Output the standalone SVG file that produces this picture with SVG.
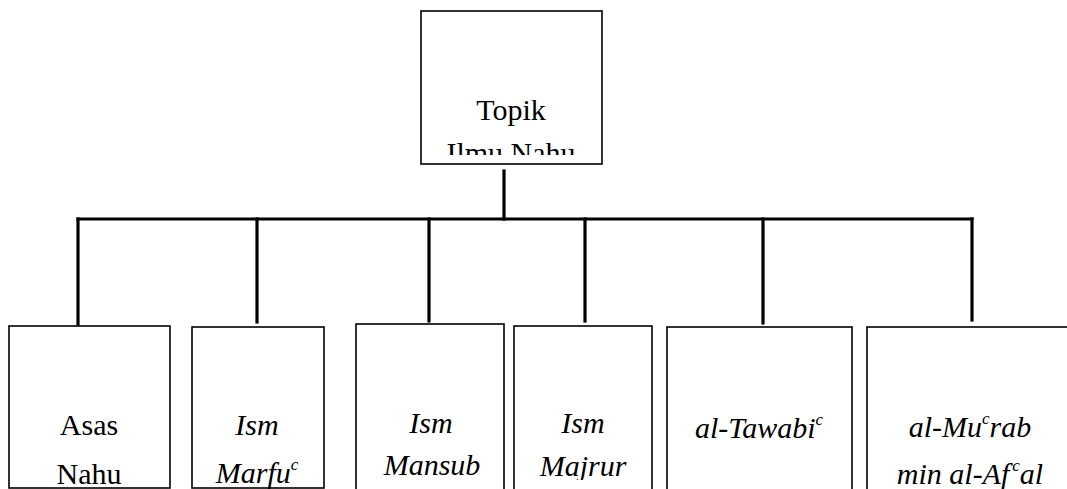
<svg xmlns="http://www.w3.org/2000/svg" width="1067" height="489" viewBox="0 0 1067 489" font-family="Liberation Serif, Times New Roman, serif">
<style>
.box{fill:#fff;stroke:#000;stroke-width:1.6}
.conn{stroke:#000;stroke-width:3.2;fill:none;stroke-linecap:square}
.t{font-family:"Liberation Serif",serif;font-size:30px;fill:#000;text-anchor:middle}
.it{font-style:italic}
.sup{font-size:17px}
</style>
<defs>
<clipPath id="clipTop"><rect x="421" y="11" width="181" height="144"/></clipPath>
<clipPath id="clipMaj"><rect x="514" y="326" width="138" height="154"/></clipPath>
</defs>
<g id="connectors">
<line class="conn" x1="504" y1="171" x2="504" y2="219"/>
<line class="conn" x1="78" y1="219" x2="972" y2="219"/>
<line class="conn" x1="78" y1="219" x2="78" y2="324"/>
<line class="conn" x1="257" y1="219" x2="257" y2="322"/>
<line class="conn" x1="429" y1="219" x2="429" y2="321"/>
<line class="conn" x1="585" y1="219" x2="585" y2="321"/>
<line class="conn" x1="763" y1="219" x2="763" y2="323"/>
<line class="conn" x1="972" y1="219" x2="972" y2="320"/>
</g>
<g id="topik">
<rect class="box" x="421" y="11" width="181" height="153"/>
<g clip-path="url(#clipTop)">
<text class="t" x="511" y="120">Topik</text>
<text class="t" x="511" y="163">Ilmu Nahu</text>
</g>
</g>
<g id="asas">
<rect class="box" x="9" y="326" width="161" height="162"/>
<text class="t" x="89" y="435">Asas</text>
<text class="t" x="89" y="484">Nahu</text>
</g>
<g id="marfu">
<rect class="box" x="192" y="327" width="132" height="161"/>
<text class="t it" x="257" y="435">Ism</text>
<text class="t it" x="257" y="483">Marfu<tspan class="sup" dy="-13">c</tspan></text>
</g>
<g id="mansub">
<rect class="box" x="356" y="324" width="148" height="170"/>
<text class="t it" x="431" y="433">Ism</text>
<text class="t it" x="432" y="475">Mansub</text>
</g>
<g id="majrur">
<rect class="box" x="514" y="326" width="138" height="170"/>
<g clip-path="url(#clipMaj)">
<text class="t it" x="583" y="433">Ism</text>
<text class="t it" x="583" y="476">Majrur</text>
</g>
</g>
<g id="tawabi">
<rect class="box" x="667" y="327" width="185" height="170"/>
<text class="t it" x="759" y="438">al-Tawabi<tspan class="sup" dy="-13">c</tspan></text>
</g>
<g id="murab">
<rect class="box" x="867" y="327" width="220" height="170"/>
<text class="t it" x="970" y="437">al-Mu<tspan class="sup" dy="-13">c</tspan><tspan dy="13">rab</tspan></text>
<text class="t it" x="970" y="484">min al-Af<tspan class="sup" dx="3" dy="-13">c</tspan><tspan dy="13">al</tspan></text>
</g>
</svg>
